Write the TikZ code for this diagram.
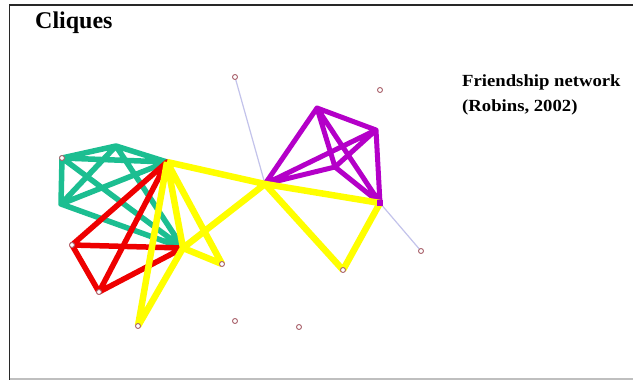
\documentclass[tikz,border=0pt]{standalone}
\usepackage{graphicx}
\usepackage{fontspec}
\setmainfont{Liberation Serif}
\definecolor{teal2}{RGB}{28,190,145}
\definecolor{red2}{RGB}{238,0,0}
\definecolor{yel2}{RGB}{255,255,0}
\definecolor{pur2}{RGB}{180,0,200}
\definecolor{lav}{RGB}{195,195,235}
\definecolor{nodec}{RGB}{170,100,110}
\definecolor{frame}{RGB}{40,40,40}
\tikzset{
  vtx/.style={circle,draw=nodec,line width=0.9pt,fill=white,minimum size=5pt,inner sep=0pt},
  tealedge/.style={draw=teal2,line width=5.5pt},
  rededge/.style={draw=red2,line width=5.5pt},
  yeledge/.style={draw=yel2,line width=6.5pt},
  puredge/.style={draw=pur2,line width=5pt},
  thinedge/.style={draw=lav,line width=1.2pt},
  darkthin/.style={draw=gray,line width=0.8pt},
  title/.style={font=\bfseries\fontsize{24}{28}\selectfont,anchor=base west,inner sep=0pt},
  caption/.style={font=\bfseries\fontsize{17}{20}\selectfont,anchor=base west,inner sep=0pt}
}
\begin{document}
\begin{tikzpicture}[x=1pt,y=-1pt]
\useasboundingbox (0,0) rectangle (633,380);
\fill[white] (0,0) rectangle (633,380);
% frame
\draw[frame,line width=1.6pt] (9.5,380) -- (9.5,5) -- (633,5);
\draw[gray!50,line width=1.2pt] (9.5,379) -- (633,379);
% texts
\node[title] (ttl) at (35,28) {Cliques};
\node[caption] (cap1) at (462,86) {\scalebox{1.1}[1]{Friendship network}};
\node[caption] (cap2) at (462,111) {\scalebox{1.1}[1]{(Robins, 2002)}};
% node positions
\coordinate (A) at (235,77);
\coordinate (B) at (380,90);
\coordinate (C) at (317,108);
\coordinate (D) at (376,130);
\coordinate (E) at (380,203);
\coordinate (H) at (265,184);
\coordinate (P) at (335,167);
\coordinate (F) at (421,251);
\coordinate (G) at (343,270);
\coordinate (T1) at (62,158);
\coordinate (T2) at (116,146);
\coordinate (T3) at (61,204);
\coordinate (K) at (167,162);
\coordinate (M) at (183,248);
\coordinate (R1) at (72,245);
\coordinate (R2) at (99,292);
\coordinate (Y1) at (222,264);
\coordinate (Y2) at (138,326);
\coordinate (I1) at (235,321);
\coordinate (I2) at (299,327);
% thin edges
\path[thinedge] (A) -- (H);
\path[thinedge] (E) -- (F);
\path[thinedge] (K) -- (Y1);
\path[darkthin] (K) -- (H);
\path[darkthin] (H) -- (E);
% teal clique
\path[tealedge,line cap=round] (T1) -- (T2) (T1) -- (K) (T2) -- (K) (T1) -- (T3) (T2) -- (T3)
  (T3) -- (K) (T1) -- (M) (T2) -- (M) (T3) -- (M);
% red clique
\path[rededge,line cap=round] (K) -- (R1) (K) -- (R2) (R1) -- (M) (R2) -- (M) (R1) -- (R2);
% purple clique
\path[puredge,line cap=round] (C) -- (D) (C) -- (H) (C) -- (E) (C) -- (P) (D) -- (E) (D) -- (H)
  (D) -- (P) (P) -- (H) (P) -- (E);
% yellow cliques
\path[yeledge] (K) -- (H) (K) -- (M) (K) -- (Y1) (K) -- (Y2) (M) -- (H) (M) -- (Y1) (M) -- (Y2)
  (H) -- (E) (H) -- (G) (E) -- (G);
% vertices
\foreach \v in {A,B,F,G,Y1,Y2,I1,I2,R1,R2,T1} {\node[vtx] (n\v) at (\v) {};}
\fill[pur2] (E) ++(-3,-3) rectangle ++(6,6);
\end{tikzpicture}
\end{document}
